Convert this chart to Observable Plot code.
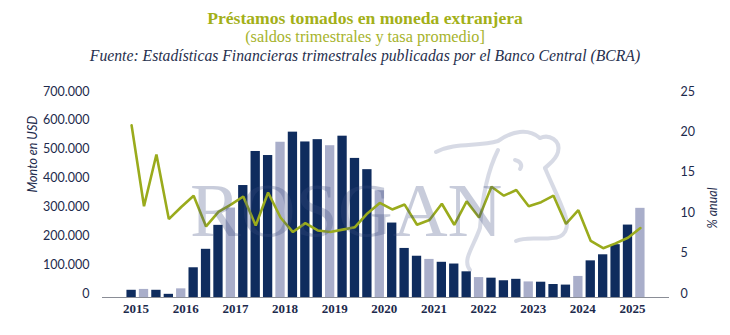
<!DOCTYPE html>
<html>
<head>
<meta charset="utf-8">
<script src="https://cdn.jsdelivr.net/npm/d3@7"></script>
<script src="https://cdn.jsdelivr.net/npm/@observablehq/plot@0.6"></script>
<style>
  html, body { margin: 0; padding: 0; background: #fff; }
  #wrap { position: relative; width: 730px; height: 335px; overflow: hidden; }
  .hd { position: absolute; left: 0; width: 730px; text-align: center; line-height: 18px; white-space: nowrap; }
  #t1 { top: 8px; font: bold 17.6px "Liberation Serif", serif; color: #a3b018; }
  #t2 { top: 26.5px; font: 16.3px "Liberation Serif", serif; color: #a6b32c; }
  #t3 { top: 47px; font: italic 15.7px "Liberation Serif", serif; color: #27304e; }
  #chart { position: absolute; left: 0; top: 65px; }
  #wm { position: absolute; left: 0; top: 0; pointer-events: none; }
</style>
</head>
<body>
<div id="wrap">
  <div class="hd" id="t1">Préstamos tomados en moneda extranjera</div>
  <div class="hd" id="t2">(saldos trimestrales y tasa promedio]</div>
  <div class="hd" id="t3">Fuente: Estadísticas Financieras trimestrales publicadas por el Banco Central (BCRA)</div>
  <div id="chart"></div>
</div>
<script>
// Monto en USD (saldos trimestrales), 42 trimestres
const montos = [25000, 28000, 25000, 11000, 30000, 103000, 167000, 250000, 310000, 388000,
  506000, 492000, 538000, 573000, 539000, 547000, 526000, 559000, 482000, 443000,
  370000, 258000, 170000, 143000, 132000, 122000, 116000, 89000, 69000, 67000,
  58000, 63000, 54000, 53000, 45000, 43000, 73000, 127000, 148000, 183000,
  251000, 309000];
// % anual (tasa promedio)
const tasas = [21.3, 11.3, 17.7, 9.7, 11.2, 12.6, 8.8, 10.6, 11.5, 12.5,
  8.9, 13.0, 9.9, 8.1, 9.2, 8.3, 8.1, 8.4, 8.7, 10.4,
  11.7, 10.9, 11.5, 9.0, 9.6, 11.6, 9.0, 11.9, 9.9, 13.7,
  12.6, 13.3, 11.3, 11.8, 12.6, 9.1, 10.8, 7.0, 6.1, 6.7,
  7.4, 8.6];
// trimestres con barra clara
const claras = [1, 4, 8, 12, 16, 20, 24, 28, 32, 36, 41];
// etiquetas del eje x (una cada 4 trimestres)
const anios = ["2015", "2016", "2017", "2018", "2019", "2020", "2021", "2022", "2023", "2024", "2025"];
const ticksMonto = [0, 100000, 200000, 300000, 400000, 500000, 600000, 700000];
const ticksTasa = [0, 5, 10, 15, 20, 25];

const escala = 700000 / 25; // 25 % anual <-> 700.000
const idx = d3.range(montos.length);
const barras = idx.map(i => ({i, monto: montos[i], clara: claras.includes(i)}));
const linea = idx.map(i => ({i, tasa: tasas[i]}));
const anioTicks = anios.map((a, k) => ({i: k * 4, a}));

const loc = d3.formatLocale({decimal: ",", thousands: ".", grouping: [3], currency: ["$", ""]});
const fmt = loc.format(",");

const navy = "#0f2c5e";
const light = "#a9aeca";
const green = "#9aab1c";
const txt = "#1d2a4c";

const chart = Plot.plot({
  width: 730,
  height: 270,
  marginLeft: 102,
  marginRight: 61,
  marginTop: 30,
  marginBottom: 38,
  x: {type: "band", domain: idx, paddingInner: 0.25, paddingOuter: 1.97, round: false, axis: null},
  y: {domain: [0, 700000], axis: null},
  marks: [
    Plot.barY(barras, {x: "i", y: "monto", fill: d => d.clara ? light : navy}),
    Plot.ruleY([0], {stroke: "#8a8d96", strokeWidth: 1.2}),
    Plot.lineY(linea, {x: "i", y: d => d.tasa * escala, stroke: green, strokeWidth: 2.6, strokeLinejoin: "miter"}),
    Plot.text(ticksMonto, {y: d => d, text: d => fmt(d), frameAnchor: "left", textAnchor: "end", dx: -13, dy: -4,
      fill: txt, fontSize: 12.5, fontFamily: "Lato"}),
    Plot.text(ticksTasa, {y: d => d * escala, text: d => String(d), frameAnchor: "right", textAnchor: "start", dx: 11, dy: -4,
      fill: txt, fontSize: 12.5, fontFamily: "Lato"}),
    Plot.text(anioTicks, {x: "i", text: "a", frameAnchor: "bottom", dy: 15, dx: 4.5, fill: txt,
      fontSize: 13, fontWeight: "bold", fontFamily: "Liberation Serif"}),
    Plot.text(["Monto en USD"], {frameAnchor: "left", dx: -70, dy: -4, rotate: -90, fill: txt,
      fontSize: 12.5, fontStyle: "italic", fontFamily: "Lato"}),
    Plot.text(["% anual"], {frameAnchor: "right", dx: 43, dy: -9, rotate: -90, fill: txt,
      fontSize: 12.5, fontStyle: "italic", fontFamily: "Lato"})
  ]
});
document.getElementById("chart").appendChild(chart);

// marca de agua (logo)
const ns = "http://www.w3.org/2000/svg";
const wm = document.createElementNS(ns, "svg");
wm.setAttribute("id", "wm");
wm.setAttribute("width", 730);
wm.setAttribute("height", 335);
const g = document.createElementNS(ns, "g");
g.setAttribute("opacity", "0.28");
const t = document.createElementNS(ns, "text");
t.setAttribute("x", 190);
t.setAttribute("y", 236);
t.setAttribute("font-family", "Liberation Serif");
t.setAttribute("font-size", 76);
t.setAttribute("fill", "#3c4d80");
t.textContent = "ROSGAN";
g.appendChild(t);
const cow = [
  "M436,152 C455,142 478,147 498,141 C512,131 528,128 540,138",
  "M540,138 C549,134 561,140 558,152 C556,160 549,164 545,168",
  "M545,168 C552,185 560,200 565,215 C570,228 565,238 552,238 C540,240 527,236 516,241",
  "M498,150 C487,172 482,200 480,228 C473,248 462,260 470,270",
  "M515,160 C520,161 523,165 520,169"
];
const gc = document.createElementNS(ns, "g");
gc.setAttribute("opacity", "0.2");
cow.forEach(dstr => {
  const p = document.createElementNS(ns, "path");
  p.setAttribute("d", dstr);
  p.setAttribute("fill", "none");
  p.setAttribute("stroke", "#3c4d80");
  p.setAttribute("stroke-width", 4);
  p.setAttribute("stroke-linecap", "round");
  gc.appendChild(p);
});
wm.appendChild(g);
wm.appendChild(gc);
document.getElementById("wrap").appendChild(wm);
</script>
</body>
</html>
